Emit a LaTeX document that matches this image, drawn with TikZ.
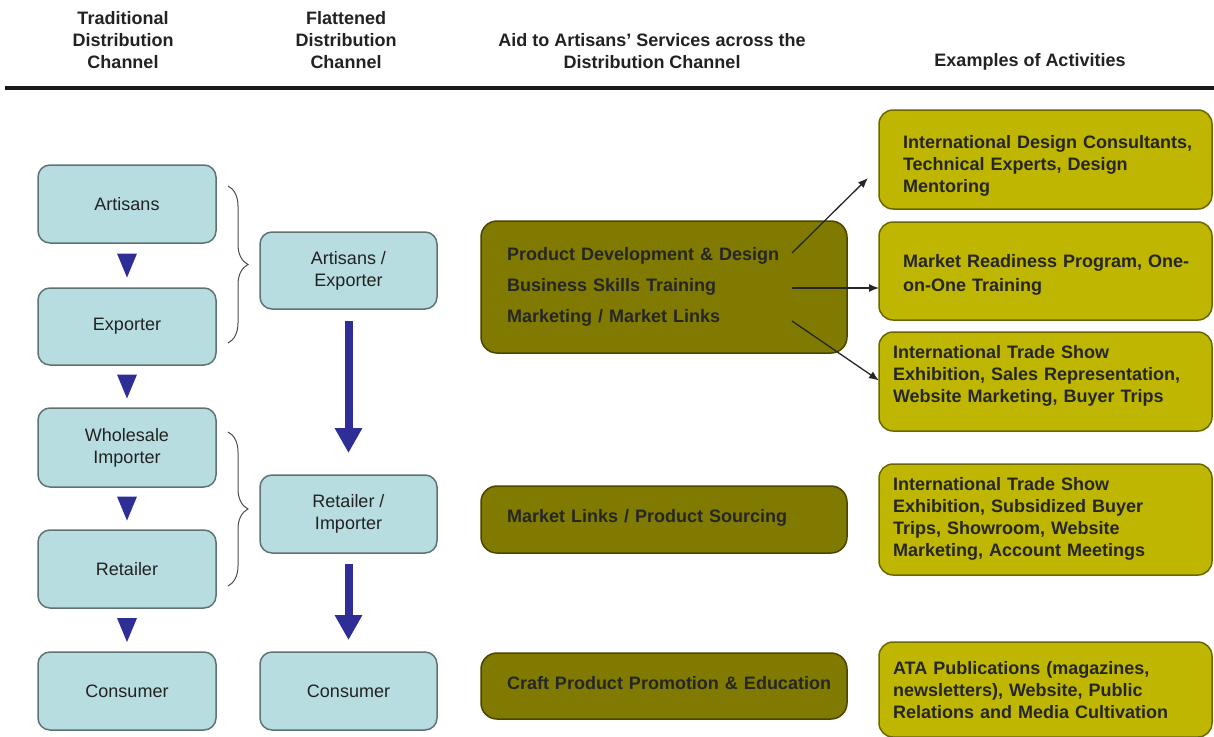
\documentclass[tikz,border=0pt]{standalone}
\usepackage{fontspec}
\setmainfont{Liberation Sans}
\usetikzlibrary{arrows.meta,calc,decorations.pathreplacing}
\definecolor{boxfill}{HTML}{B7DDE0}
\definecolor{boxline}{HTML}{5F7373}
\definecolor{olivedk}{HTML}{807A00}
\definecolor{olivedkline}{HTML}{4A4600}
\definecolor{olivelt}{HTML}{BEB600}
\definecolor{olivltline}{HTML}{6B6600}
\definecolor{navy}{HTML}{2E2E96}
\definecolor{txt}{HTML}{222222}
\newcommand{\actlines}[2][0pt]{\raisebox{#1}[\height][\depth]{\begin{tabular}{@{}l@{}}#2\end{tabular}}}
\begin{document}
\begin{tikzpicture}[x=1pt,y=-1pt,
  every node/.style={inner sep=0pt, outer sep=0pt},
  hdr/.style={font=\bfseries\fontsize{18}{22}\selectfont, align=center, text=txt},
  chan/.style={draw=boxline, line width=1.5pt, fill=boxfill, rounded corners=12pt,
    minimum width=178pt, text=txt, font=\fontsize{18}{22}\selectfont, align=center},
  aid/.style={draw=olivedkline, line width=1.5pt, fill=olivedk, rounded corners=16pt,
    minimum width=366pt, text width=314pt, inner xsep=26pt, align=left,
    font=\bfseries\fontsize{18}{22}\selectfont, text=black!85},
  actA/.style={draw=olivltline, line width=1.5pt, fill=olivelt, rounded corners=14pt,
    minimum width=333pt, text width=285pt, inner xsep=24pt, align=left,
    font=\bfseries\fontsize{18}{22}\selectfont, text=black!85},
  actB/.style={actA, text width=305pt, inner xsep=14pt},
  tri/.style={fill=navy},
  bigarrow/.style={draw=navy, line width=8pt, -{Triangle[length=25pt,width=26pt]}},
  thinarrow/.style={draw=black!85, line width=1.3pt, -{Latex[length=10pt,width=8pt]}},
  bracestyle/.style={decorate, decoration={brace, amplitude=20pt}, line width=1pt, draw=black!70}
]
\useasboundingbox (0,0) rectangle (1214,736);

% headers
\node[hdr] (h1) at (123,40) {Traditional\\Distribution\\Channel};
\node[hdr] (h2) at (346,40) {Flattened\\Distribution\\Channel};
\node[hdr] (h3) at (652,51) {Aid to Artisans' Services across the\\Distribution Channel};
\node[hdr] (h4) at (1030,62) {Examples of Activities};
\coordinate (rl) at (5,88);
\coordinate (rr) at (1214,88);
\draw[line width=4pt, draw=black!90] (rl) -- (rr);

% traditional channel
\node[chan, minimum height=78pt] (art) at (127,204) {Artisans};
\node[chan, minimum height=77pt] (exp) at (127,326.5) {Exporter};
\node[chan, minimum height=79pt] (whi) at (127,447.5) {Wholesale\\Importer};
\node[chan, minimum height=78pt] (ret) at (127,569) {Retailer};
\node[chan, minimum height=78pt] (con1) at (127,691) {Consumer};

% triangles
\foreach \a/\b/\n in {art/exp/t1, exp/whi/t2, whi/ret/t3, ret/con1/t4}{
  \coordinate (\n) at ($(\a.south)!0.5!(\b.north)$);
  \fill[tri] ($(\n)+(-10,-12)$) -- ($(\n)+(10,-12)$) -- ($(\n)+(0,12)$) -- cycle;
}

% braces
\coordinate (b1t) at (228,186);
\coordinate (b1b) at (228,343);
\coordinate (b2t) at (228,432);
\coordinate (b2b) at (228,586);
\draw[bracestyle] (b1t) -- (b1b);
\draw[bracestyle] (b2t) -- (b2b);

% flattened channel
\node[chan, minimum width=177pt, minimum height=77pt] (ae) at (348.5,270.5) {Artisans /\\Exporter};
\node[chan, minimum width=177pt, minimum height=78pt] (ri) at (348.5,514) {Retailer /\\Importer};
\node[chan, minimum width=177pt, minimum height=78pt] (con2) at (348.5,691) {Consumer};
\draw[bigarrow] ([yshift=-12pt]ae.south) -- ([yshift=22pt]ri.north);
\draw[bigarrow] ([yshift=-11pt]ri.south) -- ([yshift=12pt]con2.north);

% aid services
\node[aid, minimum height=132pt, font=\bfseries\fontsize{18}{31}\selectfont] (big) at (664,287)
  {\actlines[2pt]{Product Development \& Design\\Business Skills Training\\Marketing / Market Links}};
\node[aid, minimum height=67pt] (mls) at (664,519.5) {\actlines[1pt]{Market Links / Product Sourcing}};
\node[aid, minimum height=66pt] (cpp) at (664,686) {\actlines[1pt]{Craft Product Promotion \& Education}};

% activities
\node[actA, minimum height=99pt] (a1) at (1045.5,159.5)
  {\actlines[-7pt]{International Design Consultants,\\Technical Experts, Design\\Mentoring}};
\node[actA, minimum height=98pt, font=\bfseries\fontsize{18}{24}\selectfont] (a2) at (1045.5,271)
  {\actlines[-4pt]{Market Readiness Program, One-\\on-One Training}};
\node[actB, minimum height=99pt] (a3) at (1045.5,381.5)
  {\actlines[5pt]{International Trade Show\\Exhibition, Sales Representation,\\Website Marketing, Buyer Trips}};
\node[actB, minimum height=111pt] (a4) at (1045.5,519.5)
  {\actlines{International Trade Show\\Exhibition, Subsidized Buyer\\Trips, Showroom, Website\\Marketing, Account Meetings}};
\node[actB, minimum height=95pt] (a5) at (1045.5,689.5)
  {\actlines[-3pt]{ATA Publications (magazines,\\newsletters), Website, Public\\Relations and Media Cultivation}};

% connectors from big box
\coordinate (s1) at (792,253);
\coordinate (s2) at (792,288);
\coordinate (s3) at (792,321);
\coordinate (e1) at (868,178);
\draw[thinarrow] (s1) -- (e1);
\draw[thinarrow] (s2) -- (s2 -| a2.west);
\draw[thinarrow] (s3) -- ([yshift=1pt]a3.west);
\end{tikzpicture}
\end{document}
